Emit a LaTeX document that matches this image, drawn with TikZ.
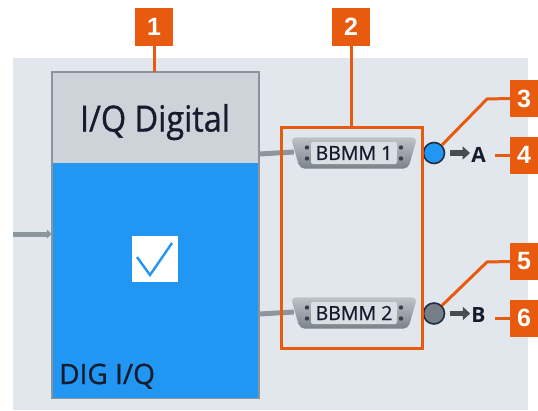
\documentclass[tikz,border=0pt]{standalone}
\usepackage{fontspec}
\setmainfont{Open Sans}
\newfontfamily\medfont[FakeBold=0.9]{Open Sans}
\newfontfamily\numfont{Liberation Sans}
\usetikzlibrary{shapes.geometric,arrows.meta}
\definecolor{rsorange}{RGB}{232,90,14}
\definecolor{panelgray}{RGB}{226,231,237}
\definecolor{headgray}{RGB}{205,211,217}
\definecolor{digblue}{RGB}{33,150,243}
\definecolor{bordergray}{RGB}{140,148,155}
\definecolor{linegray}{RGB}{141,150,156}
\definecolor{darktext}{RGB}{22,28,45}
\definecolor{portgray}{RGB}{118,126,134}
\definecolor{portedge}{RGB}{30,45,65}
\definecolor{arrowdark}{RGB}{72,77,82}
\definecolor{bbtop}{RGB}{190,196,201}
\definecolor{bbbot}{RGB}{122,130,137}
\definecolor{bbtext}{RGB}{218,223,227}
\begin{document}
\begin{tikzpicture}[x=1pt,y=-1pt,
  callout/.style={fill=rsorange, text=white, inner sep=0pt, minimum width=38pt, minimum height=38pt,
    font=\numfont\bfseries\fontsize{25pt}{25pt}\selectfont},
  sidecallout/.style={callout, minimum width=28pt, minimum height=37pt},
  pointer/.style={draw=rsorange, line width=3pt},
  link/.style={draw=linegray, line width=5pt},
  bbmm/.style={rectangle, minimum width=126pt, minimum height=31pt, inner sep=0pt},
  bbshape/.style={rounded corners=5pt, top color=bbtop, bottom color=bbbot},
  bbtxt/.style={fill=bbtext, rounded corners=2pt, inner sep=1pt, minimum width=86pt, minimum height=22pt,
    text=darktext, font=\medfont\fontsize{19.5pt}{19.5pt}\selectfont},
  port/.style={circle, minimum size=21pt, inner sep=0pt, draw=portedge, line width=1.6pt},
  outlbl/.style={text=darktext, inner sep=0pt, font=\bfseries\fontsize{21pt}{21pt}\selectfont},
  outarrow/.style={draw=arrowdark, line width=5.5pt, -{Triangle[length=7.5pt,width=13pt]}},
]
\useasboundingbox (0,0) rectangle (538,410);
\fill[white] (0,0) rectangle (538,410);
% panel
\fill[panelgray] (13,58) rectangle (528,410);

% main block
\node[fill=headgray, minimum width=207pt, minimum height=91pt, inner sep=0pt, anchor=north]
  (hdr) at (155.5,72) {};
\node[fill=digblue, minimum width=207pt, minimum height=235pt, inner sep=0pt, anchor=north]
  (dig) at (155.5,163) {};
\draw[bordergray, line width=1.5pt] (hdr.north west) rectangle (dig.south east);
\node[text=darktext, font=\medfont\fontsize{36pt}{36pt}\selectfont, inner sep=0pt, anchor=base]
  (title) at (155,131.5) {\scalebox{0.9}[1]{I/Q Digital}};
\node[text=darktext, font=\medfont\fontsize{28pt}{28pt}\selectfont, inner sep=0pt, anchor=base west]
  (diglbl) at (59,384) {DIG I/Q};
\node[fill=white, minimum size=46pt, inner sep=0pt] (chk) at (155,258.5) {};
\draw[digblue, line width=2.4pt, line join=miter] (chk.center) ++(-18,-1.5) -- ++(13,18) -- ++(22,-32);

% input arrow
\coordinate (in) at (13,234);
\draw[link, -{Triangle[length=5pt,width=9pt]}] (in) -- (in -| dig.west);

% BBMM connectors
\node[bbmm] (bb1) at (354,153) {};
\node[bbmm] (bb2) at (354,313) {};
\foreach \b in {bb1,bb2}{
  \shade[bbshape] (\b.north west) -- (\b.north east) -- ([xshift=-9pt]\b.south east)
     -- ([xshift=9pt]\b.south west) -- cycle;
}
\node[bbtxt] (t1) at (bb1) {BBMM 1};
\node[bbtxt] (t2) at (bb2) {BBMM 2};
\foreach \b in {bb1,bb2}{
  \fill[darktext!85] (\b.center) ++(-47,-5.5) circle (2.2pt) ++(0,11) circle (2.2pt);
  \fill[darktext!85] (\b.center) ++(47,-5.5) circle (2.2pt) ++(0,11) circle (2.2pt);
}
\draw[link] (dig.east |- bb1.west) ++(0,1) -- ([yshift=1pt,xshift=3pt]bb1.west);
\draw[link] (dig.east |- bb2.west) ++(0,1) -- ([yshift=1pt,xshift=3pt]bb2.west);

% ports
\node[port, fill=digblue] (pA) at (434,153) {};
\node[port, fill=portgray] (pB) at (434,313.5) {};
\node[outlbl] (lA) at (478.5,155) {A};
\node[outlbl] (lB) at (478.5,315) {B};
\draw[outarrow] (pA.east) ++(5,0) -- ([xshift=-1pt]lA.west |- pA.east);
\draw[outarrow] (pB.east) ++(5,0) -- ([xshift=-1pt]lB.west |- pB.east);

% group box 2
\node[draw=rsorange, line width=3pt, minimum width=141pt, minimum height=221pt, inner sep=0pt] (grp) at (351.5,237.5) {};

% callouts
\node[callout] (n1) at (154,27) {1};
\node[callout] (n2) at (351,27) {2};
\node[sidecallout] (n3) at (524,98.5) {3};
\node[sidecallout] (n4) at (524,155) {4};
\node[sidecallout] (n5) at (524,261.5) {5};
\node[sidecallout] (n6) at (524,318) {6};
\coordinate (b3) at (487,99);
\coordinate (b5) at (487,262);
\coordinate (e4) at (495,155);
\coordinate (e6) at (495,318);
\draw[pointer] (n1.south) -- (n1.south |- hdr.north);
\draw[pointer] (n2.south) -- (n2.south |- grp.north);
\draw[pointer] (n3.west) -- (b3) -- (pA.45);
\draw[pointer] (n4.west) -- (e4);
\draw[pointer] (n5.west) -- (b5) -- (pB.45);
\draw[pointer] (n6.west) -- (e6);
\end{tikzpicture}
\end{document}
